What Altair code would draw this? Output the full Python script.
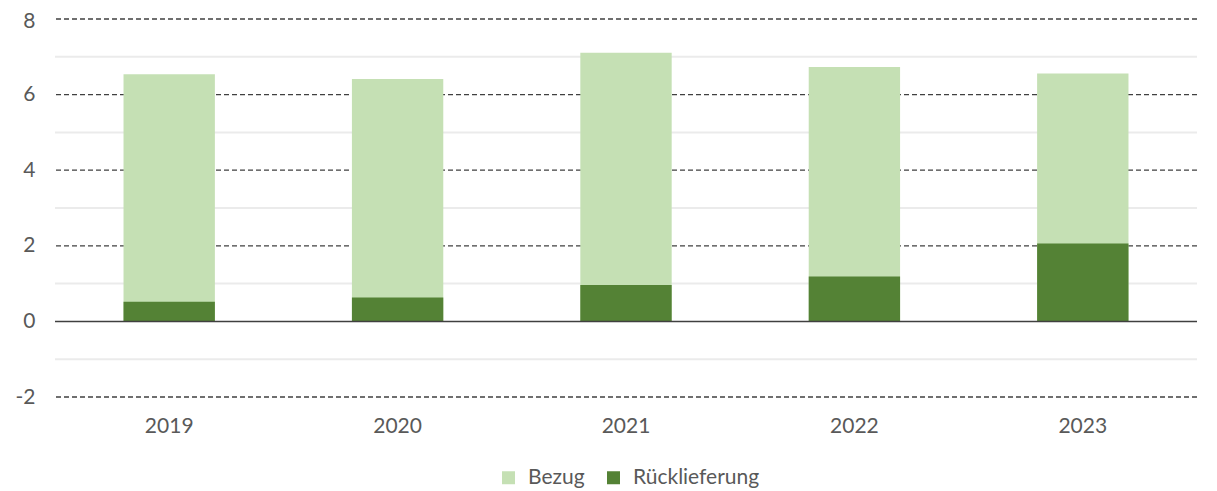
import altair as alt
import pandas as pd

years = ["2019", "2020", "2021", "2022", "2023"]
bezug = [6.54, 6.41, 7.11, 6.73, 6.56]
rueck = [0.52, 0.63, 0.96, 1.19, 2.06]
series = ["Bezug", "Rücklieferung"]
colors = ["#c5e0b4", "#548235"]
major_grid = [-2, 2, 4, 6, 8]
minor_grid = [-1, 1, 3, 5, 7]
y_ticks = [-2, 0, 2, 4, 6, 8]

FONT = "Lato"
LABEL_COLOR = "#595959"
FS = 21

df_b = pd.DataFrame({"Jahr": years, "Wert": bezug, "Serie": "Bezug"})
df_r = pd.DataFrame({"Jahr": years, "Wert": rueck, "Serie": "Rücklieferung"})
df_major = pd.DataFrame({"v": major_grid})
df_minor = pd.DataFrame({"v": minor_grid})
df_zero = pd.DataFrame({"v": [0]})

yscale = alt.Scale(domain=[-2, 8], nice=False, zero=False)
xscale = alt.Scale(domain=years, paddingInner=0.6, paddingOuter=0.3)
cscale = alt.Scale(domain=series, range=colors)

yaxis = alt.Axis(values=y_ticks, title=None, grid=False, domain=False, ticks=False,
                 labelExpr="datum.value + ''",
                 labelOffset=alt.condition("datum.value == 8", alt.value(2), alt.value(0)),
                 labelFont=FONT, labelFontSize=FS, labelColor=LABEL_COLOR, labelPadding=20)

minor = alt.Chart(df_minor).mark_rule(color="#ebebeb", strokeWidth=2).encode(
    y=alt.Y("v:Q", scale=yscale, axis=yaxis)
)
major = alt.Chart(df_major).mark_rule(color="#404040", strokeWidth=1.3, strokeDash=[5, 3]).encode(
    y=alt.Y("v:Q", scale=yscale, axis=yaxis)
)

xaxis = alt.Axis(title=None, domain=False, ticks=False, grid=False, labelAngle=0,
                 labelFont=FONT, labelFontSize=FS, labelColor=LABEL_COLOR, labelPadding=18)

bars_b = alt.Chart(df_b).mark_bar().encode(
    x=alt.X("Jahr:N", scale=xscale, axis=xaxis),
    y=alt.Y("Wert:Q", scale=yscale, axis=yaxis),
    color=alt.Color("Serie:N", scale=cscale,
                    legend=alt.Legend(title=None, orient="none", direction="horizontal",
                                      legendX=443, legendY=448, symbolType="square",
                                      symbolSize=169, symbolStrokeWidth=0,
                                      labelFont=FONT, labelFontSize=FS, labelColor=LABEL_COLOR,
                                      columnPadding=18, labelOffset=9)),
)
bars_r = alt.Chart(df_r).mark_bar().encode(
    x=alt.X("Jahr:N", scale=xscale, axis=xaxis),
    y=alt.Y("Wert:Q", scale=yscale, axis=yaxis),
    color=alt.Color("Serie:N", scale=cscale),
)
zero = alt.Chart(df_zero).mark_rule(color="#404040", strokeWidth=1.5).encode(
    y=alt.Y("v:Q", scale=yscale, axis=yaxis)
)

chart = alt.layer(minor, major, bars_b, bars_r, zero).properties(
    width=1142, height=378,
    padding={"left": 47, "top": 11, "right": 12, "bottom": 94},
    autosize=alt.AutoSizeParams(type="none"),
    background="white",
).configure_view(strokeWidth=0, stroke="transparent")

chart.save("out.html", embed_options={"renderer": "svg", "actions": False})
